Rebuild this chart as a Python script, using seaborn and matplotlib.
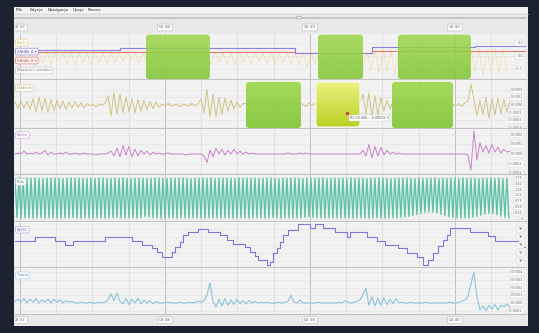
import numpy as np
import matplotlib
matplotlib.use("Agg")
import matplotlib.pyplot as plt
import seaborn as sns
from matplotlib.patches import FancyBboxPatch, Rectangle, Circle
from matplotlib.colors import LinearSegmentedColormap
from matplotlib.lines import Line2D

sns.set_theme(style="white")
plt.rcParams["font.family"] = ["DejaVu Sans"]

# ---------------------------------------------------------------- data
# time axis: seconds after 02:37
czas_pozycje = [0, 1, 2, 3]
czas_etykiety = ["02:37", "02:38", "02:39", "02:40"]
menu_pozycje = ["Plik", "Edycja", "Nawigacja", "Opcje", "Pomoc"]

# panel 1: two step channels and the movement trace
kanal_czas = [-0.034, 0.69, 1.90, 2.43, 3.14, 3.49]
kanal_a = [0.13, 0.196, 0.076, 0.215, 0.242, 0.242]
kanal_b = [0.09, 0.09, 0.08, 0.127, 0.127, 0.127]
ruch_gora = [0.08, 0.10, 0.07, 0.09, 0.11, 0.08, 0.07, 0.10, 0.09, 0.08,
             0.11, 0.07, 0.09, 0.08, 0.10, 0.09, 0.07, 0.08, 0.10, 0.09,
             0.08, 0.11, 0.07, 0.09, 0.08, 0.10, 0.07, 0.09, 0.11, 0.08,
             0.09, 0.07, 0.10, 0.08, 0.09,
             0.06, 0.09, 0.07, 0.08, 0.10, 0.06, 0.09, 0.07, 0.08, 0.10,
             0.15, 0.17, 0.14, 0.16, 0.18, 0.15, 0.14, 0.17, 0.16, 0.15,
             0.18, 0.14, 0.16, 0.17, 0.15, 0.18, 0.16]
ruch_dol = [-0.18, -0.14, -0.23, -0.16, -0.21, -0.12, -0.18, -0.23, -0.14, -0.21,
            -0.16, -0.18, -0.14,
            -0.12, -0.09, -0.16, -0.11, -0.14, -0.10, -0.15, -0.12, -0.17, -0.11,
            -0.16, -0.20, -0.13, -0.18, -0.22, -0.14, -0.19, -0.12, -0.17, -0.21,
            -0.15, -0.18,
            -0.20, -0.27, -0.18, -0.30, -0.24, -0.22, -0.29, -0.19, -0.26, -0.31,
            -0.38, -0.33, -0.42, -0.36, -0.30, -0.40, -0.35, -0.28, -0.37, -0.41,
            -0.32, -0.39, -0.34,
            -0.44, -0.36, -0.41, -0.33]

# panel 2: breathing (units of 1e-5 V)
oddech = [4, -5, 6, -4, 5, -6,
          8, -9, 10, -8, 9, -10, 7, -8,
          6, -5, 5, -6, 4, -4, 5, -3, 3, -4,
          2, -1, 1, -2, 1, 0, 2,
          12, -14, 16, -12, 14, -10, 11,
          -9, 8, -10, 7, -8, 6, -6, 5, -5, 4, -3,
          1, -1, 2, -1, 0, 1, -2, 1, 0, -1, 2, -1, 1,
          8, -10, 20, -16, 14, -15, 10, -12, 9, -8, 6,
          -5, 4, -3, 2,
          2, -3, 3, -2, 2, -3, 4, -2, 3, -3, 2, -2, 3, -1, 2, -2, 1, -2, 2,
          1, -2, 3, -1, 2,
          -2, 1, -1, 2, -2, 1, 0, -1, 2, -1, 1, -2, 3, -2, 4,
          14, -12, 16, -15, 12, -13, 10,
          -8, 6, -5,
          4, -3, 3, -2, 2, -3, 2, -1, 1, -2, 2, -1, 1, -2, 1, -1, 2, -1, 1, -2,
          1, -1, 2, -2, 3, 5,
          27, 8,
          -14, 6, -12, 10, -17, 8, -13, 9, -11, 7, -9, 5]

# panel 3: heart (units of 1e-5 V)
serce = [0, 1, 0, 3, 0, 1, 0, 2, 0, 1, 4, -1, 2, 0,
         0, 1, 0, 2, 0, 0, 1, 0, 0, 1, 0, 0, 0, -1, 0, 0, 0, 1,
         3, -2, 6, -3, 9, -1, 8, -3, 5, -2, 4,
         0, 3, -1, 2, 0, 1, 0, 0, 1, 0, 0, 0, 0, 0, -1, 0, 0, 0, 0, 0, -2,
         -9, 4, -3, 6, 0, 5, -1, 4, 0, 5, 0, 3, 0, 2, 0, 1, 0,
         0, 0, 0, 0, 0, 0, 0, 0, 0, 0, 1, 0, 0, 0, 1, 0, 1, 0, 0, 0,
         0, 0, 0, 0, 0, 0, 0, 0, 0, 0, 0, 0, 0, 0, 0,
         4, -2, 10, -4, 8, -2, 7, -1, 4,
         0, 2, 0, 1, 0, 0, 0, 0, 0, 0, 0, 0, 0, 0, 0, 0, 0, 0, 0, 0,
         0, 0, 0, 0, 0, 0, -1,
         -17, 24, -6, 12, 2, 9, 1, 10, 2, 7, 1, 5, 2, 3]

# panel 4: pulse wave, crest and trough of every beat
puls_gora = [1.74, 1.75, 1.73, 1.75, 1.74, 1.76, 1.74, 1.73, 1.75, 1.74,
             1.75, 1.74, 1.73, 1.75, 1.76, 1.74, 1.75, 1.73, 1.74, 1.75,
             1.74, 1.76, 1.75, 1.73, 1.74, 1.75, 1.74, 1.76, 1.74, 1.73,
             1.75, 1.74, 1.75, 1.73, 1.74, 1.76, 1.75, 1.74, 1.73, 1.75,
             1.74, 1.75, 1.76, 1.74, 1.73, 1.75, 1.74, 1.75, 1.74, 1.76,
             1.73, 1.75, 1.74, 1.75, 1.74, 1.73, 1.76, 1.74, 1.75, 1.74,
             1.75, 1.73, 1.74, 1.76, 1.75, 1.74, 1.73, 1.75, 1.74, 1.75,
             1.76, 1.74, 1.73, 1.75, 1.74, 1.75, 1.74, 1.76, 1.73, 1.75,
             1.74, 1.75, 1.74, 1.73, 1.76, 1.74, 1.75, 1.74, 1.73, 1.75,
             1.74, 1.76, 1.75, 1.74, 1.73, 1.75, 1.74, 1.75, 1.76, 1.74,
             1.73, 1.75, 1.74, 1.75, 1.74, 1.76, 1.73, 1.75, 1.74, 1.75,
             1.74, 1.73, 1.76, 1.74, 1.75, 1.74, 1.73, 1.75, 1.74, 1.76,
             1.74, 1.75, 1.73, 1.74]
puls_dol = [0.03, 0.01, 0.02, 0.04, 0.01, 0.02, 0.03, 0.01, 0.02, 0.03,
            0.02, 0.01, 0.03, 0.02, 0.04, 0.02, 0.01, 0.03, 0.02, 0.01,
            0.03, 0.02, 0.01, 0.02, 0.03, 0.05, 0.02, 0.01, 0.02, 0.03,
            0.02, 0.04, 0.08, 0.06, 0.03, 0.02, 0.01, 0.02, 0.03, 0.02,
            0.01, 0.03, 0.02, 0.01, 0.02, 0.03, 0.02, 0.01, 0.03, 0.02,
            0.02, 0.01, 0.03, 0.02, 0.01, 0.02, 0.03, 0.02, 0.01, 0.02,
            0.03, 0.02, 0.01, 0.02, 0.04, 0.02, 0.01, 0.03, 0.02, 0.01,
            0.02, 0.03, 0.05, 0.07, 0.05, 0.03, 0.02, 0.01, 0.02, 0.03,
            0.02, 0.01, 0.03, 0.02, 0.01, 0.02, 0.03, 0.02, 0.01, 0.02,
            0.03, 0.02, 0.01, 0.02, 0.03, 0.02, 0.04, 0.06, 0.09, 0.12,
            0.17, 0.22, 0.26, 0.28, 0.27, 0.24, 0.18, 0.12, 0.07, 0.04,
            0.02, 0.01, 0.03, 0.02, 0.05, 0.09, 0.14, 0.19, 0.22, 0.21,
            0.16, 0.10, 0.05, 0.03]

# panel 5: saturation steps
spo2_czas = [-0.034, 0.103, 0.241, 0.310, 0.366, 0.586, 0.772, 0.841, 0.910, 0.945,
             0.979, 1.048, 1.069, 1.103, 1.124, 1.159, 1.228, 1.297, 1.379, 1.428,
             1.469, 1.552, 1.586, 1.621, 1.641, 1.703, 1.724, 1.745, 1.772, 1.793,
             1.814, 1.848, 1.917, 2.000, 2.034, 2.090, 2.172, 2.255, 2.276, 2.393,
             2.462, 2.517, 2.607, 2.669, 2.738, 2.779, 2.814, 2.848, 2.883, 2.917,
             2.945, 2.966, 3.103, 3.228, 3.276, 3.434, 3.49]
spo2 = [95.1, 96.1, 95.1, 94.0, 95.1, 96.1, 95.1, 94.0, 93.2, 92.3,
        91.1, 92.3, 93.4, 94.8, 96.5, 97.3, 98.1, 97.3, 96.5, 95.3,
        94.3, 93.4, 92.3, 91.3, 90.3, 89.0, 89.8, 92.0, 93.3, 94.8,
        96.5, 97.8, 99.2, 98.2, 99.2, 98.2, 97.2, 96.1, 97.2, 96.1,
        95.1, 94.0, 93.2, 92.1, 90.9, 89.0, 90.3, 92.0, 93.8, 95.3,
        96.5, 98.2, 97.3, 96.3, 95.1, 93.6, 93.6]

# panel 6: heart-rate signal (units of 1e-5)
tetno = [2, 5, 1, 6, 0, 5, 1, 6, 0, 4, 1, 5, 0, 5, 1, 4, 0, 3, 1, 2, 0,
         0, 1, 0, 0, 1, 0, 0, 1, 0, 1,
         4, 12, 3, 13, 2,
         -1, 6, -2, 5, 0, 6, -1, 4, 0, 3, -1, 2, 0,
         0, 0, 1, 0, 0, 0, 1, 0, 0, 1, 0, 1, 2, 1, 3,
         10, 26,
         2, -5, 5, -4, 6, -3, 4, -2, 5, -1, 3, -1,
         3, 0, 2, 0, 1, 0, 1,
         0, 0, 0, 1, 0, 1, 2,
         10,
         1, 0,
         4, 0,
         0, 0, 0, 0, 1, 0, 0, 0, 0, 0, 0, 1, 0,
         3, 1,
         0, 1, 2, 4,
         11,
         19,
         -3, 8, -4, 6, -3, 7, -2, 5, -1, 6, 0,
         1, 0, 0, 1, 0, 0, 0, 0, 1, 0, 0, 0, 0, 0, 0, 0, 1, 0, 0, 1, 2,
         4, 8, 25, 40, 8,
         -9, -4, -10, -3, -8, -2, -9, -3, -5, -1, -6]

# scored episodes (start, end) in seconds
epizody_gora = [(0.869, 1.310), (2.055, 2.366), (2.607, 3.110)]
epizody_oddech = [(1.559, 1.938), (2.566, 2.986)]
epizod_zaznaczony = (2.041, 2.345)

# ---------------------------------------------------------------- layout
W, H = 539, 333
T_MIN, T_MAX = -0.034, 3.49
AX_X0, AX_X1 = 15, 526

fig = plt.figure(figsize=(W / 100, H / 100), dpi=100, facecolor="#1c2230")


def fig_rect(x0, y0, x1, y1, **kw):
    r = Rectangle((x0 / W, 1 - y1 / H), (x1 - x0) / W, (y1 - y0) / H,
                  transform=fig.transFigure, **kw)
    fig.patches.append(r)
    return r


# application window
fig_rect(14, 7, 528, 326, facecolor="#e9e9e9", edgecolor="none", zorder=-5)
fig_rect(14, 7, 528, 13, facecolor="#f3f3f3", edgecolor="none", zorder=-4)
fig.lines.append(Line2D([14 / W, 528 / W], [1 - 13.5 / H] * 2,
                        transform=fig.transFigure, color="#d4d4d4", lw=0.5, zorder=-3))

# menu bar
mx = 16
for name in menu_pozycje:
    fig.text(mx / W, 1 - 10.2 / H, name, fontsize=3.0, color="#333333",
             va="center", ha="left")
    mx += 3.6 + 2.4 * len(name)

# slider
fig.lines.append(Line2D([AX_X0 / W, AX_X1 / W], [1 - 17.5 / H] * 2,
                        transform=fig.transFigure, color="#c7c7c7", lw=1.4, zorder=-3))
knob = Circle((299 / W, 1 - 17.5 / H), 2.3 / W, transform=fig.transFigure,
              facecolor="#fafafa", edgecolor="#9a9a9a", lw=0.5, zorder=-2)
fig.patches.append(knob)


def time_row(y0, y1, yfrac):
    ax = fig.add_axes([AX_X0 / W, 1 - y1 / H, (AX_X1 - AX_X0) / W, (y1 - y0) / H])
    ax.set_xlim(T_MIN, T_MAX)
    ax.set_ylim(0, 1)
    ax.axis("off")
    for t, lab in zip(czas_pozycje, czas_etykiety):
        ax.text(t, yfrac, lab, ha="center", va="center", fontsize=3.0,
                color="#707070", clip_on=True,
                bbox=dict(boxstyle="round,pad=0.35,rounding_size=0.3",
                          fc="#fbfbfb", ec="#bdbdbd", lw=0.4))
    return ax


time_row(23, 33, 0.55)
time_row(314, 325, 0.45)


def panel(y0, y1, ylim, ticks, labels):
    ax = fig.add_axes([AX_X0 / W, 1 - y1 / H, (AX_X1 - AX_X0) / W, (y1 - y0) / H])
    ax.set_facecolor("#f2f2f2")
    ax.set_xlim(T_MIN, T_MAX)
    ax.set_ylim(*ylim)
    for s in ax.spines.values():
        s.set_visible(False)
    ax.spines["bottom"].set_visible(True)
    ax.spines["bottom"].set_color("#c2c2c2")
    ax.spines["bottom"].set_linewidth(0.8)
    ax.set_xticks(czas_pozycje)
    ax.set_xticks(np.arange(-0.0, 3.5, 0.25), minor=True)
    ax.set_yticks(ticks)
    ax.grid(which="major", axis="x", color="#b9b9b9", lw=0.6)
    ax.grid(which="minor", axis="x", color="#d9d9d9", lw=0.5)
    ax.grid(which="major", axis="y", color="#e2e2e2", lw=0.4)
    ax.tick_params(which="both", length=0, labelbottom=False, labelleft=False)
    ax.set_xlabel("")
    ax.set_ylabel("")
    for v, lab in zip(ticks, labels):
        ax.text(0.994, v, lab, transform=ax.get_yaxis_transform(), ha="right",
                va="center", fontsize=2.5, color="#6a6a6a", clip_on=True, zorder=8,
                bbox=dict(boxstyle="square,pad=0.3", fc="#fcfcfc", ec="#d2d2d2", lw=0.3))
    ax.h_px = y1 - y0
    return ax


def tag(ax, yfrac, text, color, edge):
    ax.text(0.004, yfrac, text, transform=ax.transAxes, ha="left", va="center",
            fontsize=2.8, color=color, zorder=9,
            bbox=dict(boxstyle="round,pad=0.35,rounding_size=0.3",
                      fc="#fbfbfb", ec=edge, lw=0.45))


def episode(ax, t0, t1, f0, f1, top, bottom, edge="none", lw=0.0, alpha=0.93):
    x0 = (t0 - T_MIN) / (T_MAX - T_MIN)
    x1 = (t1 - T_MIN) / (T_MAX - T_MIN)
    wpx = AX_X1 - AX_X0
    box = FancyBboxPatch((x0, f0), x1 - x0, f1 - f0,
                         boxstyle="round,pad=0,rounding_size=%f" % (3.0 / wpx),
                         mutation_aspect=wpx / ax.h_px, transform=ax.transAxes,
                         fc="none", ec=edge, lw=lw, zorder=6)
    ax.add_patch(box)
    cmap = LinearSegmentedColormap.from_list("ep", [bottom, top])
    shade = np.linspace(0, 1, 64)[:, None]
    im = ax.imshow(shade, extent=(x0, x1, f0, f1), transform=ax.transAxes,
                   cmap=cmap, aspect="auto", origin="lower", zorder=5,
                   alpha=alpha, interpolation="bilinear")
    im.set_clip_path(box)


GREEN_TOP, GREEN_BOTTOM = "#9fd84f", "#82c636"

# ---- panel 1
ax1 = panel(34, 79, (-0.531, 0.508), [0.3, 0.0, -0.3], ["0,3", "0,0", "-0,3"])
t_ruch = np.linspace(-0.034, 3.359, 2 * len(ruch_gora))
ruch = np.empty(2 * len(ruch_gora))
ruch[0::2] = ruch_gora
ruch[1::2] = ruch_dol
sns.lineplot(x=t_ruch, y=ruch, ax=ax1, color="#f0d889", lw=0.5, alpha=0.75,
             estimator=None, sort=False, legend=False)
sns.lineplot(x=kanal_czas, y=kanal_b, ax=ax1, color="#e2786a", lw=0.8,
             drawstyle="steps-post", estimator=None, sort=False, legend=False)
sns.lineplot(x=kanal_czas, y=kanal_a, ax=ax1, color="#8c80e0", lw=0.8,
             drawstyle="steps-post", estimator=None, sort=False, legend=False)
for a, b in epizody_gora:
    episode(ax1, a, b, 0.0, 0.985, GREEN_TOP, GREEN_BOTTOM, alpha=0.88)
tag(ax1, 0.81, "Ruch", "#d8b440", "#ecd27a")
tag(ax1, 0.61, "KANAŁ A ▾", "#6a5cd0", "#8c80e0")
tag(ax1, 0.41, "KANAŁ B ▾", "#d05a4a", "#e2786a")
tag(ax1, 0.19, "Wartości: średnie", "#808080", "#c8c8c8")

# ---- panel 2
ax2 = panel(80, 128, (-29.9, 32.5), [20, 10, 0, -10, -20, -30],
            ["0,0002", "0,0001", "0,0000", "-0,0001", "-0,0002", "-0,0003"])
t_sig = np.linspace(-0.034, 3.379, len(oddech))
sns.lineplot(x=t_sig, y=oddech, ax=ax2, color="#cfc487", lw=0.7,
             estimator=None, sort=False, legend=False)
for a, b in epizody_oddech:
    episode(ax2, a, b, 0.0, 0.96, GREEN_TOP, GREEN_BOTTOM)
episode(ax2, epizod_zaznaczony[0], epizod_zaznaczony[1], 0.02, 0.96,
        "#eef37e", "#b9cf1c", edge="#f6f6f6", lw=0.9, alpha=0.97)
tag(ax2, 0.83, "Oddech", "#b0a050", "#d8cf98")
# cursor read-out
cursor_t = (347 - 20) / 145
ax2.plot([cursor_t], [-10], marker="o", ms=1.4, color="#b84a3a", zorder=9)
ax2.text(cursor_t + 0.02, 0.2, "02:39.446 : -0,00002 V", transform=ax2.get_xaxis_transform(),
         ha="left", va="center", fontsize=2.4, color="#555555", zorder=10,
         bbox=dict(boxstyle="square,pad=0.3", fc="#ffffff", ec="#c8c8c8", lw=0.3))

# ---- panel 3
ax3 = panel(129, 174, (-21.0, 26.25), [20, 10, 0, -10, -20],
            ["0,0002", "0,0001", "0,0000", "-0,0001", "-0,0002"])
sns.lineplot(x=np.linspace(-0.034, 3.379, len(serce)), y=serce, ax=ax3,
             color="#c783c9", lw=0.7, estimator=None, sort=False, legend=False)
tag(ax3, 0.86, "Serce", "#b060b8", "#d9a8dc")

# ---- panel 4
ax4 = panel(175, 221, (-0.108, 1.88), [1.75, 1.5, 1.25, 1.0, 0.75, 0.5, 0.25, 0.0],
            ["1,75", "1,50", "1,25", "1,00", "0,75", "0,50", "0,25", "0"])
puls = np.empty(2 * len(puls_gora))
puls[0::2] = puls_gora
puls[1::2] = puls_dol
sns.lineplot(x=np.linspace(-0.034, 3.372, len(puls)), y=puls, ax=ax4,
             color="#5ec3a6", lw=1.0, estimator=None, sort=False, legend=False)
tag(ax4, 0.85, "Puls", "#3a9a80", "#9fd8c6")

# ---- panel 5
ax5 = panel(222, 267, (88.5, 99.75), [98, 96, 94, 92, 90], ["98", "96", "94", "92", "90"])
sns.lineplot(x=spo2_czas, y=spo2, ax=ax5, color="#7b78d6", lw=0.8,
             drawstyle="steps-post", estimator=None, sort=False, legend=False)
tag(ax5, 0.83, "SpO2", "#5a58c8", "#aeacea")

# ---- panel 6
ax6 = panel(268, 314, (-14.3, 45.5), [40, 30, 20, 10, 0, -10],
            ["0,0004", "0,0003", "0,0002", "0,0001", "0,0000", "-0,0001"])
sns.lineplot(x=np.linspace(-0.034, 3.379, len(tetno)), y=tetno, ax=ax6,
             color="#8ec3da", lw=0.8, estimator=None, sort=False, legend=False)
tag(ax6, 0.84, "Tętno", "#4f98c4", "#a8d2e6")

for ax, lim in [(ax1, (-0.531, 0.508)), (ax2, (-29.9, 32.5)), (ax3, (-21.0, 26.25)),
                (ax4, (-0.108, 1.88)), (ax5, (88.5, 99.75)), (ax6, (-14.3, 45.5))]:
    ax.set_xlim(T_MIN, T_MAX)
    ax.set_ylim(*lim)

fig.savefig("out.png", dpi=100, facecolor=fig.get_facecolor())
